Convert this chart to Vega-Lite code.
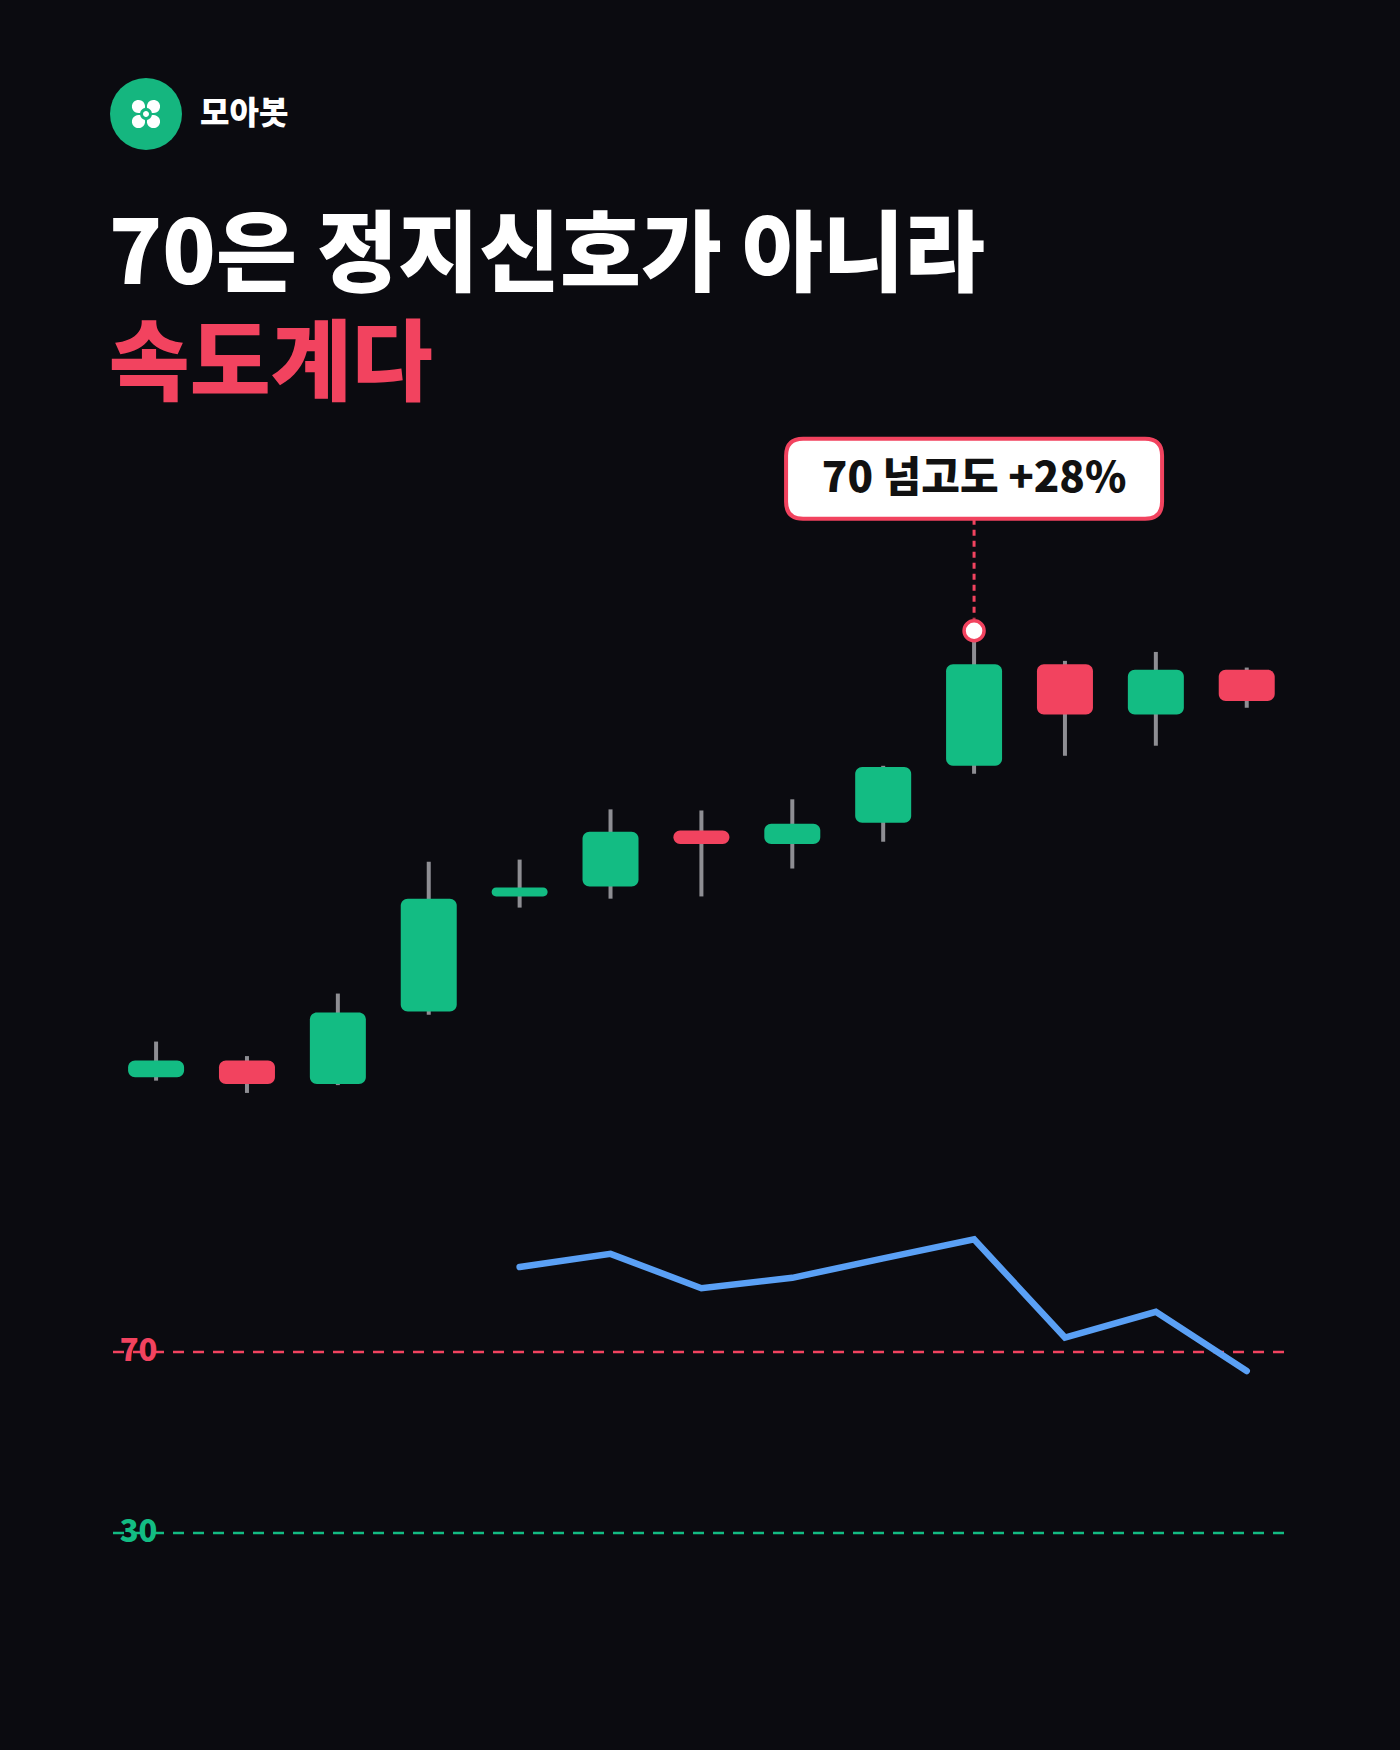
{
  "$schema": "https://vega.github.io/schema/vega-lite/v6.json",
  "background": "#0B0B10",
  "padding": {"left": 108, "right": 118, "top": 78, "bottom": 200},
  "spacing": 64,
  "config": {"view": {"stroke": null}, "font": "Noto Sans CJK KR"},
  "datasets": {
    "candles": [
      {"day": 1, "open": 100.0, "close": 101.5, "high": 103.2, "low": 99.7},
      {"day": 2, "open": 101.5, "close": 99.4, "high": 101.9, "low": 98.6},
      {"day": 3, "open": 99.4, "close": 105.8, "high": 107.5, "low": 99.3},
      {"day": 4, "open": 105.9, "close": 116.0, "high": 119.3, "low": 105.6},
      {"day": 5, "open": 116.2, "close": 117.0, "high": 119.5, "low": 115.2},
      {"day": 6, "open": 117.1, "close": 122.0, "high": 124.0, "low": 116.0},
      {"day": 7, "open": 122.1, "close": 120.9, "high": 123.9, "low": 116.2},
      {"day": 8, "open": 120.9, "close": 122.7, "high": 124.9, "low": 118.7},
      {"day": 9, "open": 122.8, "close": 127.8, "high": 127.9, "low": 121.1},
      {"day": 10, "open": 127.9, "close": 137.0, "high": 140.0, "low": 127.2},
      {"day": 11, "open": 137.0, "close": 132.5, "high": 137.3, "low": 128.8},
      {"day": 12, "open": 132.5, "close": 136.5, "high": 138.1, "low": 129.7},
      {"day": 13, "open": 136.5, "close": 133.7, "high": 136.7, "low": 133.1}
    ],
    "rsi": [
      {"day": 5, "rsi": 88.8},
      {"day": 6, "rsi": 91.7},
      {"day": 7, "rsi": 84.1},
      {"day": 8, "rsi": 86.4},
      {"day": 9, "rsi": 90.7},
      {"day": 10, "rsi": 94.9},
      {"day": 11, "rsi": 73.2},
      {"day": 12, "rsi": 78.9},
      {"day": 13, "rsi": 65.8}
    ],
    "levels": [
      {"level": 70},
      {"level": 30}
    ],
    "note": [
      {"day": 10, "price": 140.0, "label": "70 넘고도 +28%"}
    ]
  },
  "vconcat": [
    {
      "width": 72,
      "height": 72,
      "data": {"values": [{"brand": "모아봇"}]},
      "layer": [
        {"mark": {"type": "point", "shape": "circle", "size": 5184, "filled": true, "color": "#15B67F", "opacity": 1, "strokeWidth": 0}},
        {"mark": {"type": "point", "shape": "M0.3931,0.0739A0.44,0.44 0 1,1 0.0739,0.3931A0.4,0.4 0 0,0 0.3931,0.0739Z M-0.3931,-0.0739A0.44,0.44 0 1,1 -0.0739,-0.3931A0.4,0.4 0 0,0 -0.3931,-0.0739Z M0.3931,-0.0739A0.44,0.44 0 1,0 0.0739,-0.3931A0.4,0.4 0 0,1 0.3931,-0.0739Z M-0.3931,0.0739A0.44,0.44 0 1,0 -0.0739,0.3931A0.4,0.4 0 0,1 -0.3931,0.0739Z M-0.2,0A0.2,0.2 0 1,0 0.2,0A0.2,0.2 0 1,0 -0.2,0Z", "size": 900, "filled": true, "color": "#FFFFFF", "opacity": 1, "strokeWidth": 0}},
        {"mark": {"type": "text", "align": "left", "baseline": "middle", "dx": 54, "fontSize": 32, "fontWeight": 900, "color": "#FFFFFF", "font": "Noto Sans CJK KR"}, "encoding": {"text": {"field": "brand"}}}
      ]
    },
    {
      "width": 1174,
      "height": 1170,
      "title": {
        "text": "70은 정지신호가 아니라",
        "subtitle": "속도계다",
        "anchor": "start",
        "font": "Noto Sans CJK KR",
        "fontSize": 88,
        "fontWeight": 900,
        "color": "#FFFFFF",
        "subtitleFont": "Noto Sans CJK KR",
        "subtitleFontSize": 88,
        "subtitleFontWeight": 900,
        "subtitleColor": "#F2435F",
        "subtitlePadding": 21,
        "offset": 19
      },
      "layer": [
        {
          "data": {"name": "candles"},
          "layer": [
            {
              "mark": {"type": "rule", "color": "#8E8E93", "strokeWidth": 4},
              "encoding": {
                "x": {"field": "day", "type": "quantitative", "scale": {"domain": [0.493, 13.41], "nice": false, "zero": false, "padding": 0}, "axis": null},
                "y": {"field": "low", "type": "quantitative", "scale": {"domain": [53.18, 157.98], "nice": false, "zero": false}, "axis": null},
                "y2": {"field": "high"}
              }
            },
            {
              "mark": {"type": "bar", "width": 56, "cornerRadius": 7},
              "encoding": {
                "x": {"field": "day", "type": "quantitative", "scale": {"domain": [0.493, 13.41], "nice": false, "zero": false, "padding": 0}, "axis": null},
                "y": {"field": "open", "type": "quantitative", "scale": {"domain": [53.18, 157.98], "nice": false, "zero": false}, "axis": null},
                "y2": {"field": "close"},
                "color": {"condition": {"test": "datum.close >= datum.open", "value": "#13BC83"}, "value": "#F2435F"}
              }
            },
            {
              "data": {"name": "note"},
              "mark": {"type": "rule", "color": "#F2435F", "strokeWidth": 3, "strokeDash": [6, 5], "yOffset": -112, "y2Offset": -12},
              "encoding": {
                "x": {"field": "day", "type": "quantitative", "axis": null},
                "y": {"field": "price", "type": "quantitative", "axis": null},
                "y2": {"field": "price"}
              }
            },
            {
              "data": {"name": "note"},
              "mark": {"type": "point", "shape": "circle", "size": 400, "filled": true, "color": "#FFFFFF", "stroke": "#F2435F", "strokeWidth": 3.5, "opacity": 1},
              "encoding": {
                "x": {"field": "day", "type": "quantitative", "axis": null},
                "y": {"field": "price", "type": "quantitative", "axis": null}
              }
            },
            {
              "data": {"name": "note"},
              "mark": {"type": "point", "shape": "M-0.9096,-0.2128L0.9096,-0.2128Q1,-0.2128 1,-0.1224L1,0.1224Q1,0.2128 0.9096,0.2128L-0.9096,0.2128Q-1,0.2128 -1,0.1224L-1,-0.1224Q-1,-0.2128 -0.9096,-0.2128Z", "size": 141376, "filled": true, "color": "#FFFFFF", "stroke": "#F2435F", "strokeWidth": 4, "opacity": 1, "yOffset": -152},
              "encoding": {
                "x": {"field": "day", "type": "quantitative", "axis": null},
                "y": {"field": "price", "type": "quantitative", "axis": null}
              }
            },
            {
              "data": {"name": "note"},
              "mark": {"type": "text", "dy": -152, "align": "center", "baseline": "middle", "fontSize": 42, "fontWeight": 900, "color": "#111111", "font": "Noto Sans CJK KR"},
              "encoding": {
                "x": {"field": "day", "type": "quantitative", "axis": null},
                "y": {"field": "price", "type": "quantitative", "axis": null},
                "text": {"field": "label"}
              }
            }
          ]
        },
        {
          "layer": [
            {
              "data": {"name": "levels"},
              "mark": {"type": "text", "align": "left", "baseline": "middle", "fontSize": 31, "fontWeight": 900, "font": "Noto Sans CJK KR"},
              "encoding": {
                "x": {"datum": 0.6, "type": "quantitative", "axis": null},
                "y": {"field": "level", "type": "quantitative", "scale": {"domain": [15.17, 273.85], "nice": false, "zero": false}, "axis": null},
                "text": {"field": "level"},
                "color": {"condition": {"test": "datum.level == 70", "value": "#F2435F"}, "value": "#13BC83"}
              }
            },
            {
              "data": {"name": "levels"},
              "mark": {"type": "rule", "strokeWidth": 2.5, "strokeDash": [11, 9]},
              "encoding": {
                "y": {"field": "level", "type": "quantitative", "axis": null},
                "color": {"condition": {"test": "datum.level == 70", "value": "#F2435F"}, "value": "#13BC83"}
              }
            },
            {
              "data": {"name": "rsi"},
              "mark": {"type": "line", "color": "#5AA0F5", "strokeWidth": 6.5, "strokeCap": "round", "strokeJoin": "miter"},
              "encoding": {
                "x": {"field": "day", "type": "quantitative", "axis": null},
                "y": {"field": "rsi", "type": "quantitative", "axis": null}
              }
            }
          ]
        }
      ],
      "resolve": {"scale": {"y": "independent"}}
    }
  ]
}
